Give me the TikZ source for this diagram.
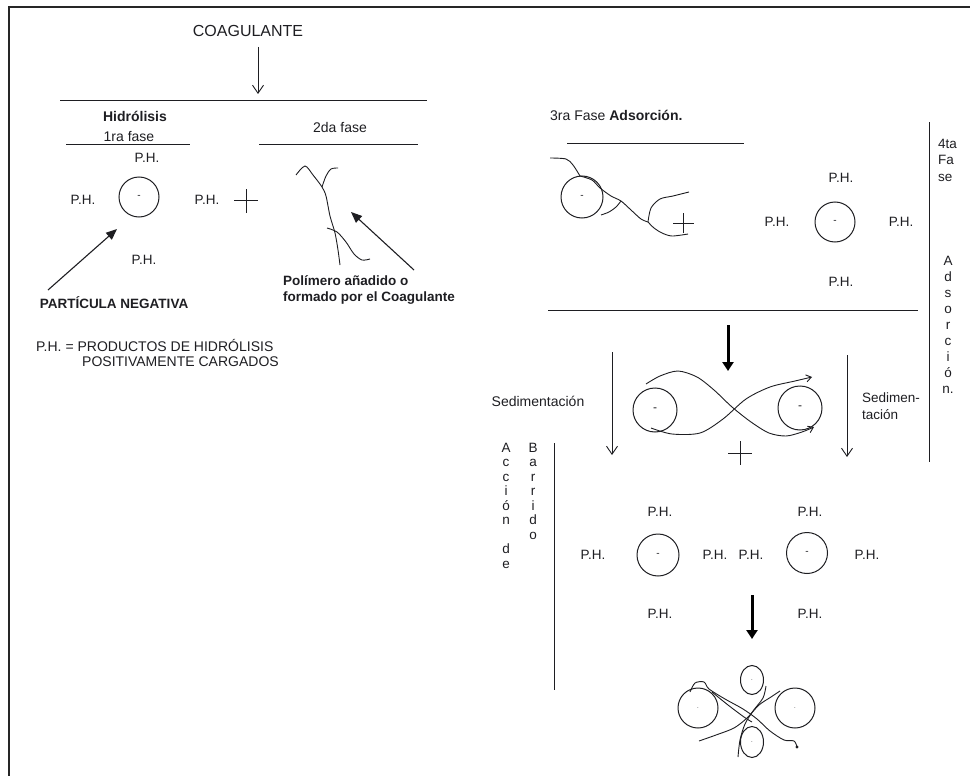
\documentclass[tikz,border=0pt]{standalone}
\usepackage{fontspec}
\setmainfont{Liberation Sans}
\usetikzlibrary{arrows.meta,shapes.geometric}
\definecolor{ink}{RGB}{30,30,34}
\begin{document}
\begin{tikzpicture}[x=1pt,y=-1pt,
  every node/.style={inner sep=0pt, text=ink},
  txt/.style={font=\fontsize{14}{16}\selectfont},
  txtb/.style={font=\bfseries\fontsize{13.5}{16}\selectfont},
  ph/.style={font=\fontsize{13.5}{16}\selectfont},
  column/.style={font=\fontsize{13.5}{14.5}\selectfont, align=center, anchor=north},
  rule/.style={draw=ink, line width=1pt},
  part/.style={circle, draw=ink, line width=1pt, minimum size=#1},
  blob/.style={ellipse, draw=ink, line width=1pt},
  strand/.style={draw=ink, line width=0.9pt},
  thinarrow/.style={draw=ink, line width=0.9pt, -{Straight Barb[length=8pt,width=11pt]}},
  fillarrow/.style={draw=ink, line width=1.1pt, -{Triangle[length=11pt,width=9pt]}},
  boldarrow/.style={draw=black, line width=3pt, -{Triangle[length=9pt,width=11pt]}},
  tiparrow/.style={draw=ink, line width=0.9pt, -{Straight Barb[length=5pt,width=7pt]}},
  charge/.style={font=\fontsize{10}{10}\selectfont}
]
\useasboundingbox (0,0) rectangle (970,776);

% frame: top and left edges
\draw[black!85, line width=2.2pt] (9,776) -- (9,7) -- (970,7);

% ---------- first and second phase ----------
\node[txt, font=\fontsize{16}{18}\selectfont] (coag) at (248,31) {COAGULANTE};
\coordinate (coagTail) at (258,47);
\coordinate (coagHead) at (258,94);
\draw[thinarrow] (coagTail) -- (coagHead);
\draw[rule] (60,101) -- (427,101);

\node[txtb, font=\bfseries\fontsize{14}{16}\selectfont] (hidro) at (135,116) {Hidrólisis};
\node[txt] (fase1) at (129,137) {1ra fase};
\draw[rule] (66,144) -- (190,144);
\node[txt] (fase2) at (340,127) {2da fase};
\draw[rule] (259,144) -- (418,144);

\node[part=40pt, charge] (p1) at (139,197) {-};
\node[ph] (ph1t) at (147,158) {P.H.};
\node[ph] (ph1l) at (83,200) {P.H.};
\node[ph] (ph1r) at (207,200) {P.H.};
\node[ph] (ph1b) at (144,260) {P.H.};
\draw[rule] (234,200) -- (258,200);
\draw[rule] (246,189) -- (246,213);

% polymer chain
\draw[strand] plot[smooth] coordinates {(296,175) (305,166) (313,175) (322,187) (326,196) (330,216) (335,233) (338,250) (340,265)};
\draw[strand] plot[smooth] coordinates {(322,187) (326,176) (331,169) (338,168)};
\draw[strand] plot[smooth] coordinates {(327,228) (337,232) (346,242) (354,254) (362,260) (370,259)};

\node[txtb] (neg) at (114,303) {PARTÍCULA NEGATIVA};
\coordinate (negTail) at (48,290);
\coordinate (negHead) at (117,229);
\draw[fillarrow] (negTail) -- (negHead);

\node[txtb, anchor=west, align=left, font=\bfseries\fontsize{13.5}{16}\selectfont] (poly) at (283,290) {Polímero añadido o\\formado por el Coagulante};
\coordinate (polyTail) at (414,270);
\coordinate (polyHead) at (351,212);
\draw[fillarrow] (polyTail) -- (polyHead);

\node[txt, anchor=west] (leg1) at (36,345) {P.H. = PRODUCTOS DE HIDRÓLISIS};
\node[txt, anchor=west] (leg2) at (82,362) {POSITIVAMENTE CARGADOS};

% ---------- third phase ----------
\node[txt, anchor=west] (fase3) at (550,115) {3ra Fase \textbf{Adsorción.}};
\draw[rule] (567,143) -- (744,143);

\node[part=42pt, charge] (p3) at (582,197) {-};
\draw[strand] plot[smooth] coordinates {(550,158) (566,159) (573,165) (580,176)};
\draw[strand] plot[smooth] coordinates {(580,176) (592,180) (600,188) (611,196) (621,201) (631,210) (641,219) (648,222)};
\draw[strand] plot[smooth] coordinates {(621,201) (616,207) (609,212) (601,215)};
\draw[strand] plot[smooth] coordinates {(648,222) (651,208) (660,199) (673,196) (689,192)};
\draw[strand] plot[smooth] coordinates {(648,222) (654,228) (662,233) (672,236) (688,234)};
\draw[rule] (673,223) -- (694,223);
\draw[rule] (683,213) -- (683,233);

\node[part=40pt, charge] (p4) at (835,222) {-};
\node[ph] (ph4t) at (841,178) {P.H.};
\node[ph] (ph4l) at (777,222) {P.H.};
\node[ph] (ph4r) at (901,222) {P.H.};
\node[ph] (ph4b) at (841,282) {P.H.};

% ---------- fourth phase, side label ----------
\draw[rule] (929,122) -- (929,462);
\node[column, anchor=north west, align=left, font=\fontsize{13.5}{16.5}\selectfont] (fase4) at (938,139) {4ta\\Fa\\se};
\node[column, font=\fontsize{13.5}{16}\selectfont] (adsv) at (948,256) {A\\d\\s\\o\\r\\c\\i\\ó\\n.};

\draw[rule] (548,310) -- (918,310);

% ---------- bridging and sedimentation ----------
\coordinate (b1Tail) at (728,325);
\coordinate (b1Head) at (728,371);
\draw[boldarrow] (b1Tail) -- (b1Head);

\node[txt] (sed1) at (538,401) {Sedimentación};
\coordinate (s1Tail) at (612,352);
\coordinate (s1Head) at (612,455);
\draw[thinarrow] (s1Tail) -- (s1Head);
\node[txt, anchor=west, align=left, font=\fontsize{13.5}{17}\selectfont] (sed2) at (862,406) {Sedimen-\\tación};
\coordinate (s2Tail) at (847,355);
\coordinate (s2Head) at (847,457);
\draw[thinarrow] (s2Tail) -- (s2Head);

\node[part=44pt, font=\fontsize{12}{12}\selectfont] (p5) at (655,410) {-};
\node[part=44pt, font=\fontsize{12}{12}\selectfont] (p6) at (800,408) {-};
\draw[tiparrow] plot[smooth] coordinates {(646,384) (660,376) (678,371) (697,377) (714,390) (732,407) (751,422) (769,433) (786,436) (802,432) (814,427)};
\draw[tiparrow] plot[smooth] coordinates {(651,428) (672,434) (700,433) (723,419) (746,399) (770,387) (795,381) (812,377)};
\draw[rule] (728,453) -- (752,453);
\draw[rule] (740,441) -- (740,465);

% ---------- sweep action, side label ----------
\node[column] (accv) at (506,443) {A\\c\\c\\i\\ó\\n\\[14.5pt]d\\e};
\node[column] (barv) at (533,443) {B\\a\\r\\r\\i\\d\\o};
\draw[rule] (554,443) -- (554,690);

\node[part=42pt, charge] (p7) at (658,555) {-};
\node[ph] (ph7t) at (660,512) {P.H.};
\node[ph] (ph7l) at (593,555) {P.H.};
\node[ph] (ph7r) at (715,555) {P.H.};
\node[ph] (ph7b) at (660,614) {P.H.};
\node[part=41pt, charge] (p8) at (807,553) {-};
\node[ph] (ph8t) at (810,512) {P.H.};
\node[ph] (ph8l) at (751,555) {P.H.};
\node[ph] (ph8r) at (867,555) {P.H.};
\node[ph] (ph8b) at (810,614) {P.H.};

\coordinate (b2Tail) at (752,595);
\coordinate (b2Head) at (752,639);
\draw[boldarrow] (b2Tail) -- (b2Head);

% ---------- floc ----------
\node[part=40pt, font=\fontsize{6}{6}\selectfont] (f1) at (698,708) {.};
\node[part=40pt, font=\fontsize{6}{6}\selectfont] (f2) at (795,708) {.};
\node[blob, minimum width=23pt, minimum height=29pt, font=\fontsize{6}{6}\selectfont] (f3) at (752,680) {.};
\node[blob, minimum width=23pt, minimum height=31pt, font=\fontsize{6}{6}\selectfont] (f4) at (752,742) {.};
\draw[strand] plot[smooth] coordinates {(690,692) (695,683) (704,682) (709,689) (725,699) (743,709) (757,719) (770,731) (784,740) (794,741) (797,747)};
\draw[strand] plot[smooth] coordinates {(699,741) (716,735) (734,728) (747,718) (759,705) (771,697) (780,691)};
\draw[strand] plot[smooth] coordinates {(766,686) (763,698) (753,711) (745,724) (740,740) (738,757)};
\draw[strand] plot[smooth] coordinates {(712,692) (728,705) (744,717) (752,722)};
\fill[ink] (797,747) circle (1.6pt);
\end{tikzpicture}
\end{document}
